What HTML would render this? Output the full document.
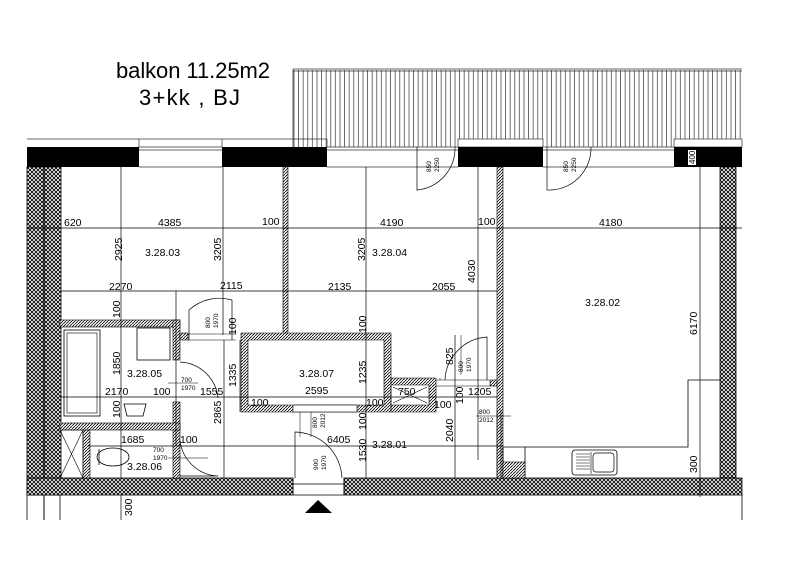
<!DOCTYPE html>
<html><head><meta charset="utf-8"><style>
html,body{margin:0;padding:0;background:#fff;}
svg{display:block;}
text{font-family:"Liberation Sans",sans-serif;fill:#000;}
</style></head><body>
<svg width="800" height="565" viewBox="0 0 800 565" xmlns="http://www.w3.org/2000/svg">
<defs>
<pattern id="ch" width="4" height="4" patternUnits="userSpaceOnUse">
<rect width="4" height="4" fill="#fff"/>
<path d="M0,0L4,4M4,0L0,4" stroke="#000" stroke-width="0.9"/>
</pattern>
<pattern id="hh" width="3" height="3" patternUnits="userSpaceOnUse">
<rect width="3" height="3" fill="#fff"/>
<path d="M0,3L3,0" stroke="#000" stroke-width="0.8"/>
</pattern>
<pattern id="rl" width="4.6" height="80" patternUnits="userSpaceOnUse" x="293">
<path d="M1,0V80" stroke="#333" stroke-width="0.7"/>
</pattern>
</defs>

<text x="116" y="78" font-size="22" textLength="154">balkon 11.25m2</text>
<text x="139" y="105" font-size="22" textLength="101">3+kk , BJ</text>

<!-- railing -->
<rect x="293" y="70" width="449" height="77" fill="url(#rl)"/>
<path d="M293,69H742M293,71H742M293,69V147" stroke="#333" stroke-width="0.8" fill="none"/>
<rect x="458" y="139" width="85" height="8" fill="#fff" stroke="#333" stroke-width="0.7"/>
<rect x="674" y="139" width="68" height="8" fill="#fff" stroke="#333" stroke-width="0.7"/>
<path d="M27,139H327M139,139V147M222,139V147M327,139V147" stroke="#333" stroke-width="0.7" fill="none"/>
<path d="M139,147H222M139,150H222M327,147H458M327,150H458M543,147H674M543,150H674M139,167H222M327,167H458M543,167H674" stroke="#333" stroke-width="0.7"/>

<!-- black walls top -->
<rect x="27" y="147" width="112" height="20" fill="#000"/>
<rect x="222" y="147" width="105" height="20" fill="#000"/>
<rect x="458" y="147" width="85" height="20" fill="#000"/>
<rect x="674" y="147" width="68" height="20" fill="#000"/>
<rect x="688" y="150" width="8" height="15" fill="#fff"/>
<text transform="translate(695,164) rotate(-90)" font-size="8">400</text>

<!-- outer walls -->
<rect x="27" y="167" width="34" height="328" fill="url(#ch)" stroke="#000" stroke-width="0.8"/>
<line x1="44" y1="167" x2="44" y2="520" stroke="#000" stroke-width="1"/>
<rect x="720" y="167" width="16" height="311" fill="url(#ch)" stroke="#000" stroke-width="0.8"/>
<rect x="27" y="478" width="266" height="17" fill="url(#ch)" stroke="#000" stroke-width="0.8"/>
<rect x="344" y="478" width="398" height="17" fill="url(#ch)" stroke="#000" stroke-width="0.8"/>
<path d="M293,478V495H344V478M293,484H344" stroke="#000" stroke-width="0.8" fill="none"/>
<path d="M27,495V520M60,495V520M742,495V520" stroke="#000" stroke-width="0.8"/>
<polygon points="305,513 318,500 332,513" fill="#000"/>

<!-- interior walls -->
<rect x="283" y="167" width="5" height="168" fill="url(#hh)" stroke="#000" stroke-width="0.6"/>
<rect x="497" y="167" width="6" height="311" fill="url(#hh)" stroke="#000" stroke-width="0.6"/>
<!-- bathroom -->
<rect x="60" y="320" width="120" height="7" fill="url(#hh)" stroke="#000" stroke-width="0.6"/>
<rect x="173" y="320" width="7" height="40" fill="url(#hh)" stroke="#000" stroke-width="0.6"/>
<rect x="173" y="402" width="7" height="76" fill="url(#hh)" stroke="#000" stroke-width="0.6"/>
<rect x="60" y="423" width="120" height="7" fill="url(#hh)" stroke="#000" stroke-width="0.6"/>
<rect x="83" y="430" width="7" height="48" fill="url(#hh)" stroke="#000" stroke-width="0.6"/>
<rect x="64" y="330" width="36" height="86" fill="none" stroke="#000" stroke-width="0.8"/>
<rect x="67" y="333" width="30" height="80" fill="none" stroke="#000" stroke-width="0.6"/>
<rect x="137" y="328" width="33" height="32" fill="none" stroke="#000" stroke-width="0.8"/>
<path d="M124,404h22l-3,12h-16z" fill="none" stroke="#000" stroke-width="0.8"/>
<path d="M60,430h23v48h-23M60,430L83,478M83,430L60,478" fill="none" stroke="#000" stroke-width="0.6"/>
<ellipse cx="113" cy="457" rx="16" ry="9" fill="none" stroke="#000" stroke-width="0.8"/>
<path d="M99,449v16" stroke="#000" stroke-width="0.8"/>
<!-- hall wall pieces -->
<rect x="180" y="333" width="8" height="7" fill="url(#hh)" stroke="#000" stroke-width="0.6"/>
<path d="M188,340H236M188,334H236" stroke="#000" stroke-width="0.6"/>
<path d="M189,340V310A45,45 0 0 1 232,300V340" fill="none" stroke="#000" stroke-width="0.7"/>
<!-- storage -->
<path d="M241,333H391V412H241Z M248,340H384V405H248Z" fill="url(#hh)" fill-rule="evenodd" stroke="#000" stroke-width="0.6"/>
<rect x="293" y="405" width="64" height="7" fill="#fff" stroke="#000" stroke-width="0.6"/>
<!-- closet -->
<path d="M391,378H436V412H391Z M391,385H429V405H391Z" fill="url(#hh)" fill-rule="evenodd" stroke="#000" stroke-width="0.6"/>
<path d="M393,387L427,403M427,387L393,403" stroke="#000" stroke-width="0.6"/>
<rect x="490" y="380" width="7" height="6" fill="url(#hh)" stroke="#000" stroke-width="0.6"/>
<path d="M436,380H490M436,386H490" stroke="#000" stroke-width="0.6"/>
<path d="M445,380A45,45 0 0 1 487,337V380" fill="none" stroke="#000" stroke-width="0.7"/>
<!-- doors -->
<path d="M180,362A40,40 0 0 1 218,398" fill="none" stroke="#000" stroke-width="0.7"/>
<path d="M180,440A40,40 0 0 0 218,476H180" fill="none" stroke="#000" stroke-width="0.7"/>
<path d="M295,478V432A48,48 0 0 1 342,478" fill="none" stroke="#000" stroke-width="0.7"/>
<path d="M417,147V190A42,42 0 0 0 455,147" fill="none" stroke="#000" stroke-width="0.7"/>
<path d="M547,147V190A42,42 0 0 0 591,147" fill="none" stroke="#000" stroke-width="0.7"/>
<path d="M497,410V478M501,410V478" stroke="#000" stroke-width="0.6"/>
<!-- kitchen -->
<path d="M503,447H688V380H720M503,447V478M525,447V478" fill="none" stroke="#000" stroke-width="0.8"/>
<rect x="503" y="462" width="22" height="16" fill="url(#hh)" stroke="#000" stroke-width="0.6"/>
<rect x="572" y="450" width="45" height="25" rx="3" fill="none" stroke="#000" stroke-width="0.8"/>
<rect x="593" y="453" width="21" height="19" rx="3" fill="none" stroke="#000" stroke-width="0.7"/>
<path d="M576,454h14M576,457h14M576,460h14M576,463h14M576,466h14M576,469h14M591,452v22" stroke="#000" stroke-width="0.6"/>

<!-- dimension lines -->
<g stroke="#000" stroke-width="0.7" fill="none">
<path d="M27,228H742M60,291H497M60,397H497M88,446H503"/>
<path d="M121,167V478M223,167V335M366,167V478M478,167V460M700,147V497M455,335V478M224,340V478M240,340V412M176,291V446"/>
<path d="M121,495V520"/>
</g>

<g font-size="10.5">
<text x="64" y="226">620</text><text x="158" y="226">4385</text><text x="262" y="225">100</text>
<text x="380" y="226">4190</text><text x="478" y="225">100</text><text x="599" y="226">4180</text>
<text x="145" y="256">3.28.03</text><text x="372" y="256">3.28.04</text><text x="585" y="306">3.28.02</text>
<text x="109" y="290">2270</text><text x="220" y="289">2115</text><text x="328" y="290">2135</text><text x="432" y="290">2055</text>
<text x="127" y="377">3.28.05</text><text x="299" y="377">3.28.07</text><text x="372" y="448">3.28.01</text><text x="127" y="470">3.28.06</text>
<text x="105" y="395">2170</text><text x="153" y="395">100</text><text x="200" y="395">1555</text><text x="305" y="394">2595</text>
<text x="251" y="406">100</text><text x="366" y="406">100</text><text x="398" y="395">750</text><text x="434" y="408">100</text><text x="468" y="395">1205</text>
<text x="121" y="443">1685</text><text x="180" y="443">100</text><text x="327" y="443">6405</text>
<text transform="translate(122,261) rotate(-90)">2925</text>
<text transform="translate(221,261) rotate(-90)">3205</text>
<text transform="translate(365,261) rotate(-90)">3205</text>
<text transform="translate(475,283) rotate(-90)">4030</text>
<text transform="translate(697,335) rotate(-90)">6170</text>
<text transform="translate(120,318) rotate(-90)">100</text>
<text transform="translate(120,375) rotate(-90)">1850</text>
<text transform="translate(120,418) rotate(-90)">100</text>
<text transform="translate(236,335) rotate(-90)">100</text>
<text transform="translate(236,387) rotate(-90)">1335</text>
<text transform="translate(221,424) rotate(-90)">2865</text>
<text transform="translate(366,333) rotate(-90)">100</text>
<text transform="translate(366,384) rotate(-90)">1235</text>
<text transform="translate(366,430) rotate(-90)">100</text>
<text transform="translate(366,462) rotate(-90)">1530</text>
<text transform="translate(453,365) rotate(-90)">825</text>
<text transform="translate(463,404) rotate(-90)">100</text>
<text transform="translate(453,442) rotate(-90)">2040</text>
<text transform="translate(697,473) rotate(-90)">300</text>
<text transform="translate(132,516) rotate(-90)">300</text>
</g>
<g font-size="6.5">
<text x="181" y="382">700</text><text x="181" y="390">1970</text>
<text x="153" y="452">700</text><text x="153" y="460">1970</text>
<text x="479" y="414">800</text><text x="479" y="422">2012</text>
<text transform="translate(210,328) rotate(-90)">800</text><text transform="translate(218,328) rotate(-90)">1970</text>
<text transform="translate(317,428) rotate(-90)">800</text><text transform="translate(325,428) rotate(-90)">2012</text>
<text transform="translate(318,470) rotate(-90)">900</text><text transform="translate(326,470) rotate(-90)">1970</text>
<text transform="translate(463,372) rotate(-90)">800</text><text transform="translate(471,372) rotate(-90)">1970</text>
<text transform="translate(431,172) rotate(-90)">850</text><text transform="translate(439,172) rotate(-90)">2250</text>
<text transform="translate(568,172) rotate(-90)">850</text><text transform="translate(576,172) rotate(-90)">2250</text>
</g>
<path d="M168,383h30M168,458h40M476,416h35M300,412v25M311,412v25M461,335v40M440,380v-2" stroke="#000" stroke-width="0.5"/>
</svg>
</body></html>
